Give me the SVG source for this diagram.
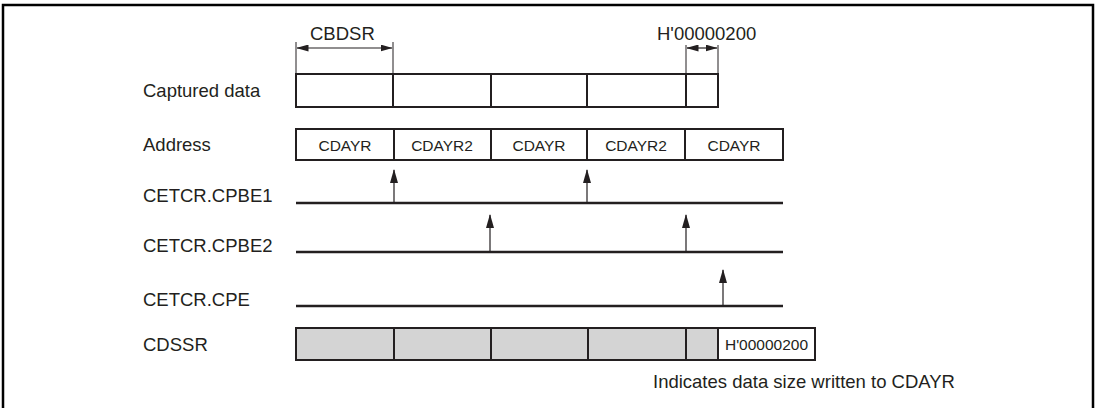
<svg xmlns="http://www.w3.org/2000/svg" width="1100" height="408" viewBox="0 0 1100 408">
<defs>
<style>
text{font-family:"Liberation Sans",Arial,sans-serif;fill:#231f20}
.lbl{font-size:18.5px}
.cell{font-size:15.5px;text-anchor:middle}
.box{fill:#fff;stroke:#231f20;stroke-width:2}
.gbox{fill:#d4d4d4;stroke:#231f20;stroke-width:2}
.sig{stroke:#231f20;stroke-width:2.5;fill:none}
.arr{stroke:#231f20;stroke-width:1.2;fill:none;marker-end:url(#up)}
.dim{stroke:#231f20;stroke-width:1.2;fill:none;marker-start:url(#dh);marker-end:url(#dh)}
.tick{stroke:#231f20;stroke-width:1;fill:none}
</style>
<marker id="up" viewBox="0 0 14 8" refX="13" refY="4" markerWidth="14" markerHeight="8" markerUnits="userSpaceOnUse" orient="auto">
<path d="M0,0 L14,4 L0,8 z" fill="#231f20"/>
</marker>
<marker id="dh" viewBox="0 0 12 7" refX="11.5" refY="3.5" markerWidth="12" markerHeight="7" markerUnits="userSpaceOnUse" orient="auto-start-reverse">
<path d="M0,0 L12,3.5 L0,7 z" fill="#231f20"/>
</marker>
</defs>
<rect width="1100" height="408" fill="#fff"/>
<path d="M3,420 V5 H1093 V420" fill="none" stroke="#000" stroke-width="2.5"/>

<g id="labels">
<text class="lbl" x="143" y="97">Captured data</text>
<text class="lbl" x="143" y="151">Address</text>
<text class="lbl" x="143" y="202">CETCR.CPBE1</text>
<text class="lbl" x="143" y="252">CETCR.CPBE2</text>
<text class="lbl" x="143" y="306">CETCR.CPE</text>
<text class="lbl" x="143" y="351">CDSSR</text>
</g>

<g id="captured">
<rect class="box" x="296" y="74" width="422" height="33"/>
<path class="tick" d="M393,74 V107 M491,74 V107 M587,74 V107 M686,74 V107" style="stroke-width:2"/>
</g>

<g id="dim-cbdsr">
<text class="lbl" x="310" y="40">CBDSR</text>
<path class="tick" d="M296,42 V74 M393,42 V74"/>
<path class="dim" d="M297,48 H392"/>
</g>

<g id="dim-last">
<text class="lbl" x="657" y="40">H'00000200</text>
<path class="tick" d="M686,45 V74 M718,45 V74"/>
<path class="dim" d="M687,48 H717"/>
</g>

<g id="address">
<rect class="box" x="296" y="129" width="487" height="31"/>
<path class="tick" d="M394,129 V160 M491,129 V160 M587,129 V160 M685,129 V160" style="stroke-width:2"/>
<text class="cell" x="345" y="151">CDAYR</text>
<text class="cell" x="442" y="151">CDAYR2</text>
<text class="cell" x="539" y="151">CDAYR</text>
<text class="cell" x="636" y="151">CDAYR2</text>
<text class="cell" x="734" y="151">CDAYR</text>
</g>

<g id="signals">
<path class="sig" d="M296,203 H783"/>
<path class="sig" d="M296,252 H783"/>
<path class="sig" d="M296,306 H783"/>
</g>

<g id="connectors">
<path class="arr" d="M394,203 V170"/>
<path class="arr" d="M587,203 V170"/>
<path class="arr" d="M490,252 V215"/>
<path class="arr" d="M686,252 V215"/>
<path class="arr" d="M723,306 V270"/>
</g>

<g id="cdssr">
<rect class="gbox" x="296" y="328" width="422" height="32"/>
<path class="tick" d="M394,328 V360 M491,328 V360 M588,328 V360 M686,328 V360" style="stroke-width:2"/>
<rect class="box" x="718" y="328" width="97" height="32"/>
<text class="cell" x="766.5" y="350">H'00000200</text>
</g>

<text class="lbl" x="653" y="388">Indicates data size written to CDAYR</text>
</svg>
